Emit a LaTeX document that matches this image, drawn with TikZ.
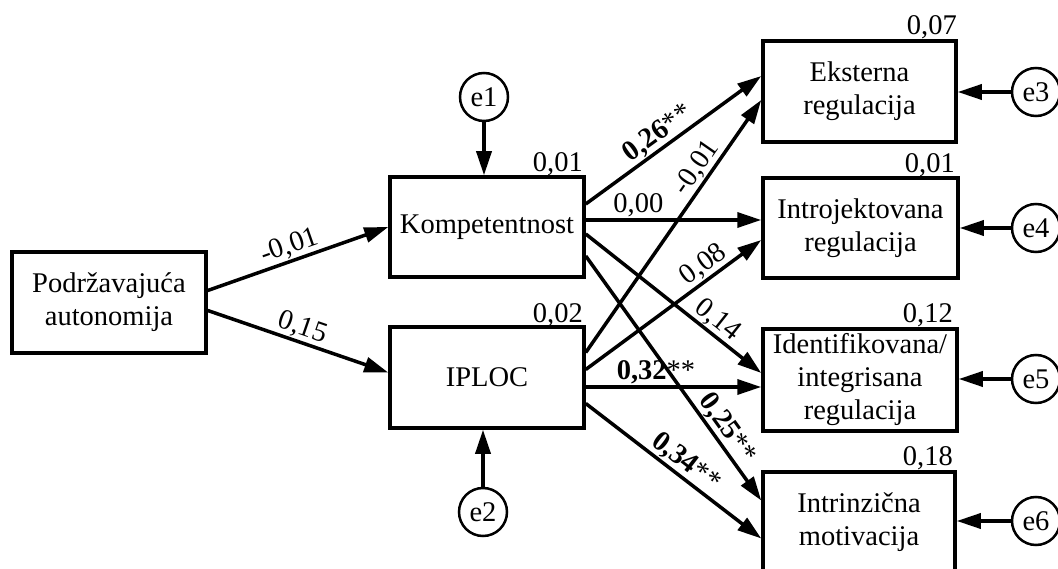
\documentclass[tikz,border=0pt]{standalone}
\usepackage{fontspec}
\setmainfont{Liberation Serif}
\usetikzlibrary{arrows.meta,calc}
\begin{document}
\begin{tikzpicture}[x=1pt,y=-1pt,
  txt/.style={font=\fontsize{28.5}{33}\selectfont},
  box/.style={txt, draw, line width=3.5pt, minimum width=194pt, minimum height=101pt, align=center, inner sep=0pt},
  err/.style={txt, draw, circle, line width=2.5pt, minimum size=48pt, inner sep=0pt},
  conn/.style={line width=3.5pt, -{Triangle[length=24pt,width=15pt]}},
  lab/.style={txt, sloped, above, inner sep=1pt},
  rsq/.style={txt, anchor=base east, inner sep=0pt}
]
\clip (0,0) rectangle (1058,569);
\fill[white] (0,0) rectangle (1058,569);

\node[box] (podr) at (109,302.5) {Podržavajuća\\autonomija};
\node[box, minimum height=100pt] (komp) at (487,227) {Kompetentnost};
\node[box] (iploc) at (487,377.5) {IPLOC};
\node[box, minimum width=193pt] (eks) at (859.5,91.5) {Eksterna\\regulacija};
\node[box, minimum width=195pt, minimum height=100pt] (intro) at (860.5,228) {Introjektovana\\regulacija};
\node[box, minimum height=102pt] (ident) at (860,380) {Identifikovana/\\integrisana\\regulacija};
\node[box, minimum width=192pt] (intr) at (859,522.5) {Intrinzična\\motivacija};

\node[err] (e1) at (484,97) {e1};
\node[err] (e2) at (483,512) {e2};
\node[err] (e3) at (1036,92) {e3};
\node[err] (e4) at (1036,228) {e4};
\node[err] (e5) at (1036,379) {e5};
\node[err] (e6) at (1036,521) {e6};

% R squared
\node[rsq] (r1) at (583,172) {0,01};
\node[rsq] (r2) at (583,323) {0,02};
\node[rsq] (r3) at (957,35) {0,07};
\node[rsq] (r4) at (955,173) {0,01};
\node[rsq] (r5) at (953,323) {0,12};
\node[rsq] (r6) at (953,465) {0,18};

% error arrows
\draw[conn] (e1.south) -- (e1.south |- komp.north);
\draw[conn] (e2.north) -- (e2.north |- iploc.south);
\draw[conn] (e3.west) -- (e3.west -| eks.east);
\draw[conn] (e4.west) -- (e4.west -| intro.east);
\draw[conn] (e5.west) -- (e5.west -| ident.east);
\draw[conn] (e6.west) -- (e6.west -| intr.east);

% paths
\draw[conn] ($(podr.east)+(0,-12)$) -- node[lab, pos=0.48] {-0,01} (komp.west);
\draw[conn] ($(podr.east)+(0,8)$) -- node[lab, pos=0.5] {0,15} ($(iploc.west)+(0,-5)$);

\draw[conn] ($(komp.east)+(0,-23)$) -- node[lab, pos=0.46] {\textbf{0,26}**} ($(eks.west)+(0,-15.5)$);
\draw[conn] ($(komp.east)+(0,-7)$) -- node[lab, pos=0.3] {0,00} ($(intro.west)+(0,-8)$);
\draw[conn] ($(komp.east)+(0,7)$) -- node[lab, pos=0.7] {0,14} ($(ident.west)+(0,-7)$);
\draw[conn] ($(komp.east)+(0,29)$) -- node[lab, pos=0.74] {\textbf{0,25}**} ($(intr.west)+(0,-22)$);

\draw[conn] ($(iploc.east)+(0,-25)$) -- node[lab, pos=0.7] {-0,01} ($(eks.west)+(0,8.5)$);
\draw[conn] ($(iploc.east)+(0,-8)$) -- node[lab, pos=0.72] {0,08} ($(intro.west)+(0,12)$);
\draw[conn] ($(iploc.east)+(0,9.5)$) -- node[lab, pos=0.4] {\textbf{0,32}**} ($(ident.west)+(0,7)$);
\draw[conn] ($(iploc.east)+(0,26)$) -- node[lab, pos=0.52] {\textbf{0,34}**} ($(intr.west)+(0,16)$);
\end{tikzpicture}
\end{document}
